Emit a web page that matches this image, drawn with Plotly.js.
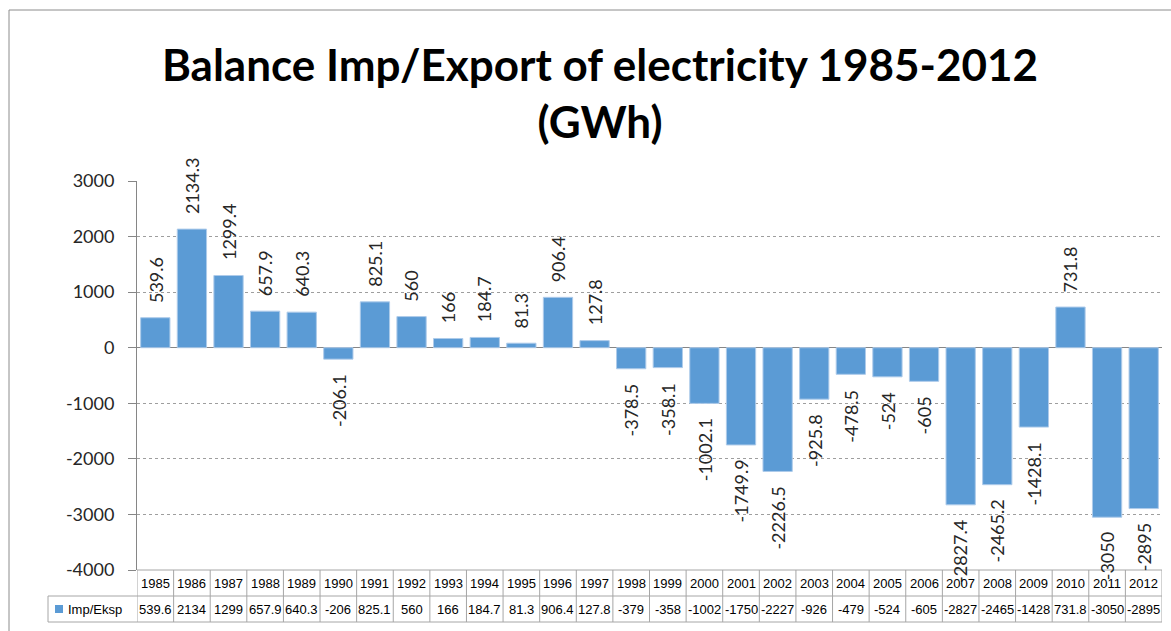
<!DOCTYPE html>
<html>
<head>
<meta charset="utf-8">
<script src="https://cdn.plot.ly/plotly-3.0.1.min.js"></script>
<style>
html,body{margin:0;padding:0;background:#fff;}
#chart{width:1171px;height:631px;}
</style>
</head>
<body>
<div id="chart"></div>
<script>
const years = ['1985','1986','1987','1988','1989','1990','1991','1992','1993','1994','1995','1996','1997','1998','1999','2000','2001','2002','2003','2004','2005','2006','2007','2008','2009','2010','2011','2012'];
const balance = [539.6, 2134.3, 1299.4, 657.9, 640.3, -206.1, 825.1, 560, 166, 184.7, 81.3, 906.4, 127.8, -378.5, -358.1, -1002.1, -1749.9, -2226.5, -925.8, -478.5, -524, -605, -2827.4, -2465.2, -1428.1, 731.8, -3050, -2895];
const tableLabels = ['539.6','2134','1299','657.9','640.3','-206','825.1','560','166','184.7','81.3','906.4','127.8','-379','-358','-1002','-1750','-2227','-926','-479','-524','-605','-2827','-2465','-1428','731.8','-3050','-2895'];
const seriesName = 'Imp/Eksp';
const yTicks = [-4000, -3000, -2000, -1000, 0, 1000, 2000, 3000];

const W = 1171, H = 631;
const M = {l: 137, r: 9, t: 181, b: 61};
const PW = W - M.l - M.r, PH = H - M.t - M.b;
const px2x = p => (p - M.l) / PW;
const py2y = p => (H - M.b - p) / PH;

const gridCol = '#a6a6a6';
const tableFont = {family: '"Liberation Sans Narrow", "Arial Narrow", "Liberation Sans", Arial, sans-serif', size: 13, color: '#000'};

const row1Bot = py2y(596);
const row2Bot = py2y(622);
const legLeft = px2x(48);

const shapes = [];
const line = (xref, x0, x1, yref, y0, y1, col) => shapes.push({type: 'line', xref, yref, x0, x1, y0, y1, line: {color: col || gridCol, width: 1}, layer: 'above'});

line('paper', 0, 1, 'paper', 0, 0);
line('paper', legLeft, 1, 'paper', row1Bot, row1Bot);
line('paper', legLeft, 1, 'paper', row2Bot, row2Bot);
for (let i = 0; i <= years.length; i++) {
  line('x', i - 0.5, i - 0.5, 'paper', 0, row2Bot);
}
line('paper', legLeft, legLeft, 'paper', row1Bot, row2Bot);
line('paper', px2x(9), px2x(1171), 'paper', py2y(10), py2y(10), '#8c8c8c');
line('paper', px2x(9), px2x(9), 'paper', py2y(10), py2y(631), '#8c8c8c');
shapes.push({type: 'rect', xref: 'paper', yref: 'paper', x0: px2x(55), x1: px2x(63), y0: py2y(613), y1: py2y(605), fillcolor: '#5b9bd5', line: {width: 0}});

const annotations = [];
balance.forEach((v, i) => {
  annotations.push({
    x: i, y: v, xref: 'x', yref: 'y',
    text: String(v), showarrow: false, textangle: -90,
    xanchor: 'center', yanchor: v >= 0 ? 'bottom' : 'top',
    yshift: v >= 0 ? 13 : -13,
    font: {family: 'Lato, "Open Sans", sans-serif', size: 18, color: '#262626'}
  });
});
const row1Mid = py2y(583.5), row2Mid = py2y(609);
years.forEach((y, i) => {
  annotations.push({x: i, y: row1Mid, xref: 'x', yref: 'paper', text: y, showarrow: false, xanchor: 'center', yanchor: 'middle', font: tableFont});
  annotations.push({x: i, y: row2Mid, xref: 'x', yref: 'paper', text: tableLabels[i], showarrow: false, xanchor: 'center', yanchor: 'middle', font: tableFont});
});
annotations.push({x: px2x(66), y: row2Mid, xref: 'paper', yref: 'paper', text: seriesName, showarrow: false, xanchor: 'left', yanchor: 'middle', font: tableFont});

const data = [{
  type: 'bar',
  x: years,
  y: balance,
  name: seriesName,
  marker: {color: '#5b9bd5', line: {color: '#aecbea', width: 1}},
  hoverinfo: 'x+y'
}];

const layout = {
  width: W, height: H,
  margin: M,
  paper_bgcolor: '#fff', plot_bgcolor: '#fff',
  showlegend: false,
  bargap: 0.2,
  title: {
    text: 'Balance Imp/Export of electricity 1985-2012<br>(GWh)',
    x: 600 / W, xanchor: 'center', xref: 'container',
    y: 1 - 81 / H, yanchor: 'top', yref: 'container',
    font: {family: 'Lato, "Open Sans", sans-serif', size: 44, color: '#000', weight: 'bold'}
  },
  xaxis: {
    type: 'category',
    showticklabels: false, ticks: '',
    showgrid: false, zeroline: false, showline: false,
    range: [-0.5, years.length - 0.5], fixedrange: true
  },
  yaxis: {
    range: [-4000, 3000],
    tickvals: yTicks,
    ticktext: yTicks.map(String),
    ticks: 'outside', ticklen: 8, tickcolor: '#868686', tickwidth: 1,
    ticklabelstandoff: 10,
    showline: true, linecolor: '#868686', linewidth: 1,
    showgrid: true, gridcolor: '#9e9e9e', griddash: 'dot', gridwidth: 1,
    zeroline: true, zerolinecolor: '#868686', zerolinewidth: 1,
    tickfont: {family: 'Lato, "Open Sans", sans-serif', size: 18, color: '#262626'},
    fixedrange: true
  },
  shapes, annotations
};

Plotly.newPlot('chart', data, layout, {displayModeBar: false});
</script>
</body>
</html>
